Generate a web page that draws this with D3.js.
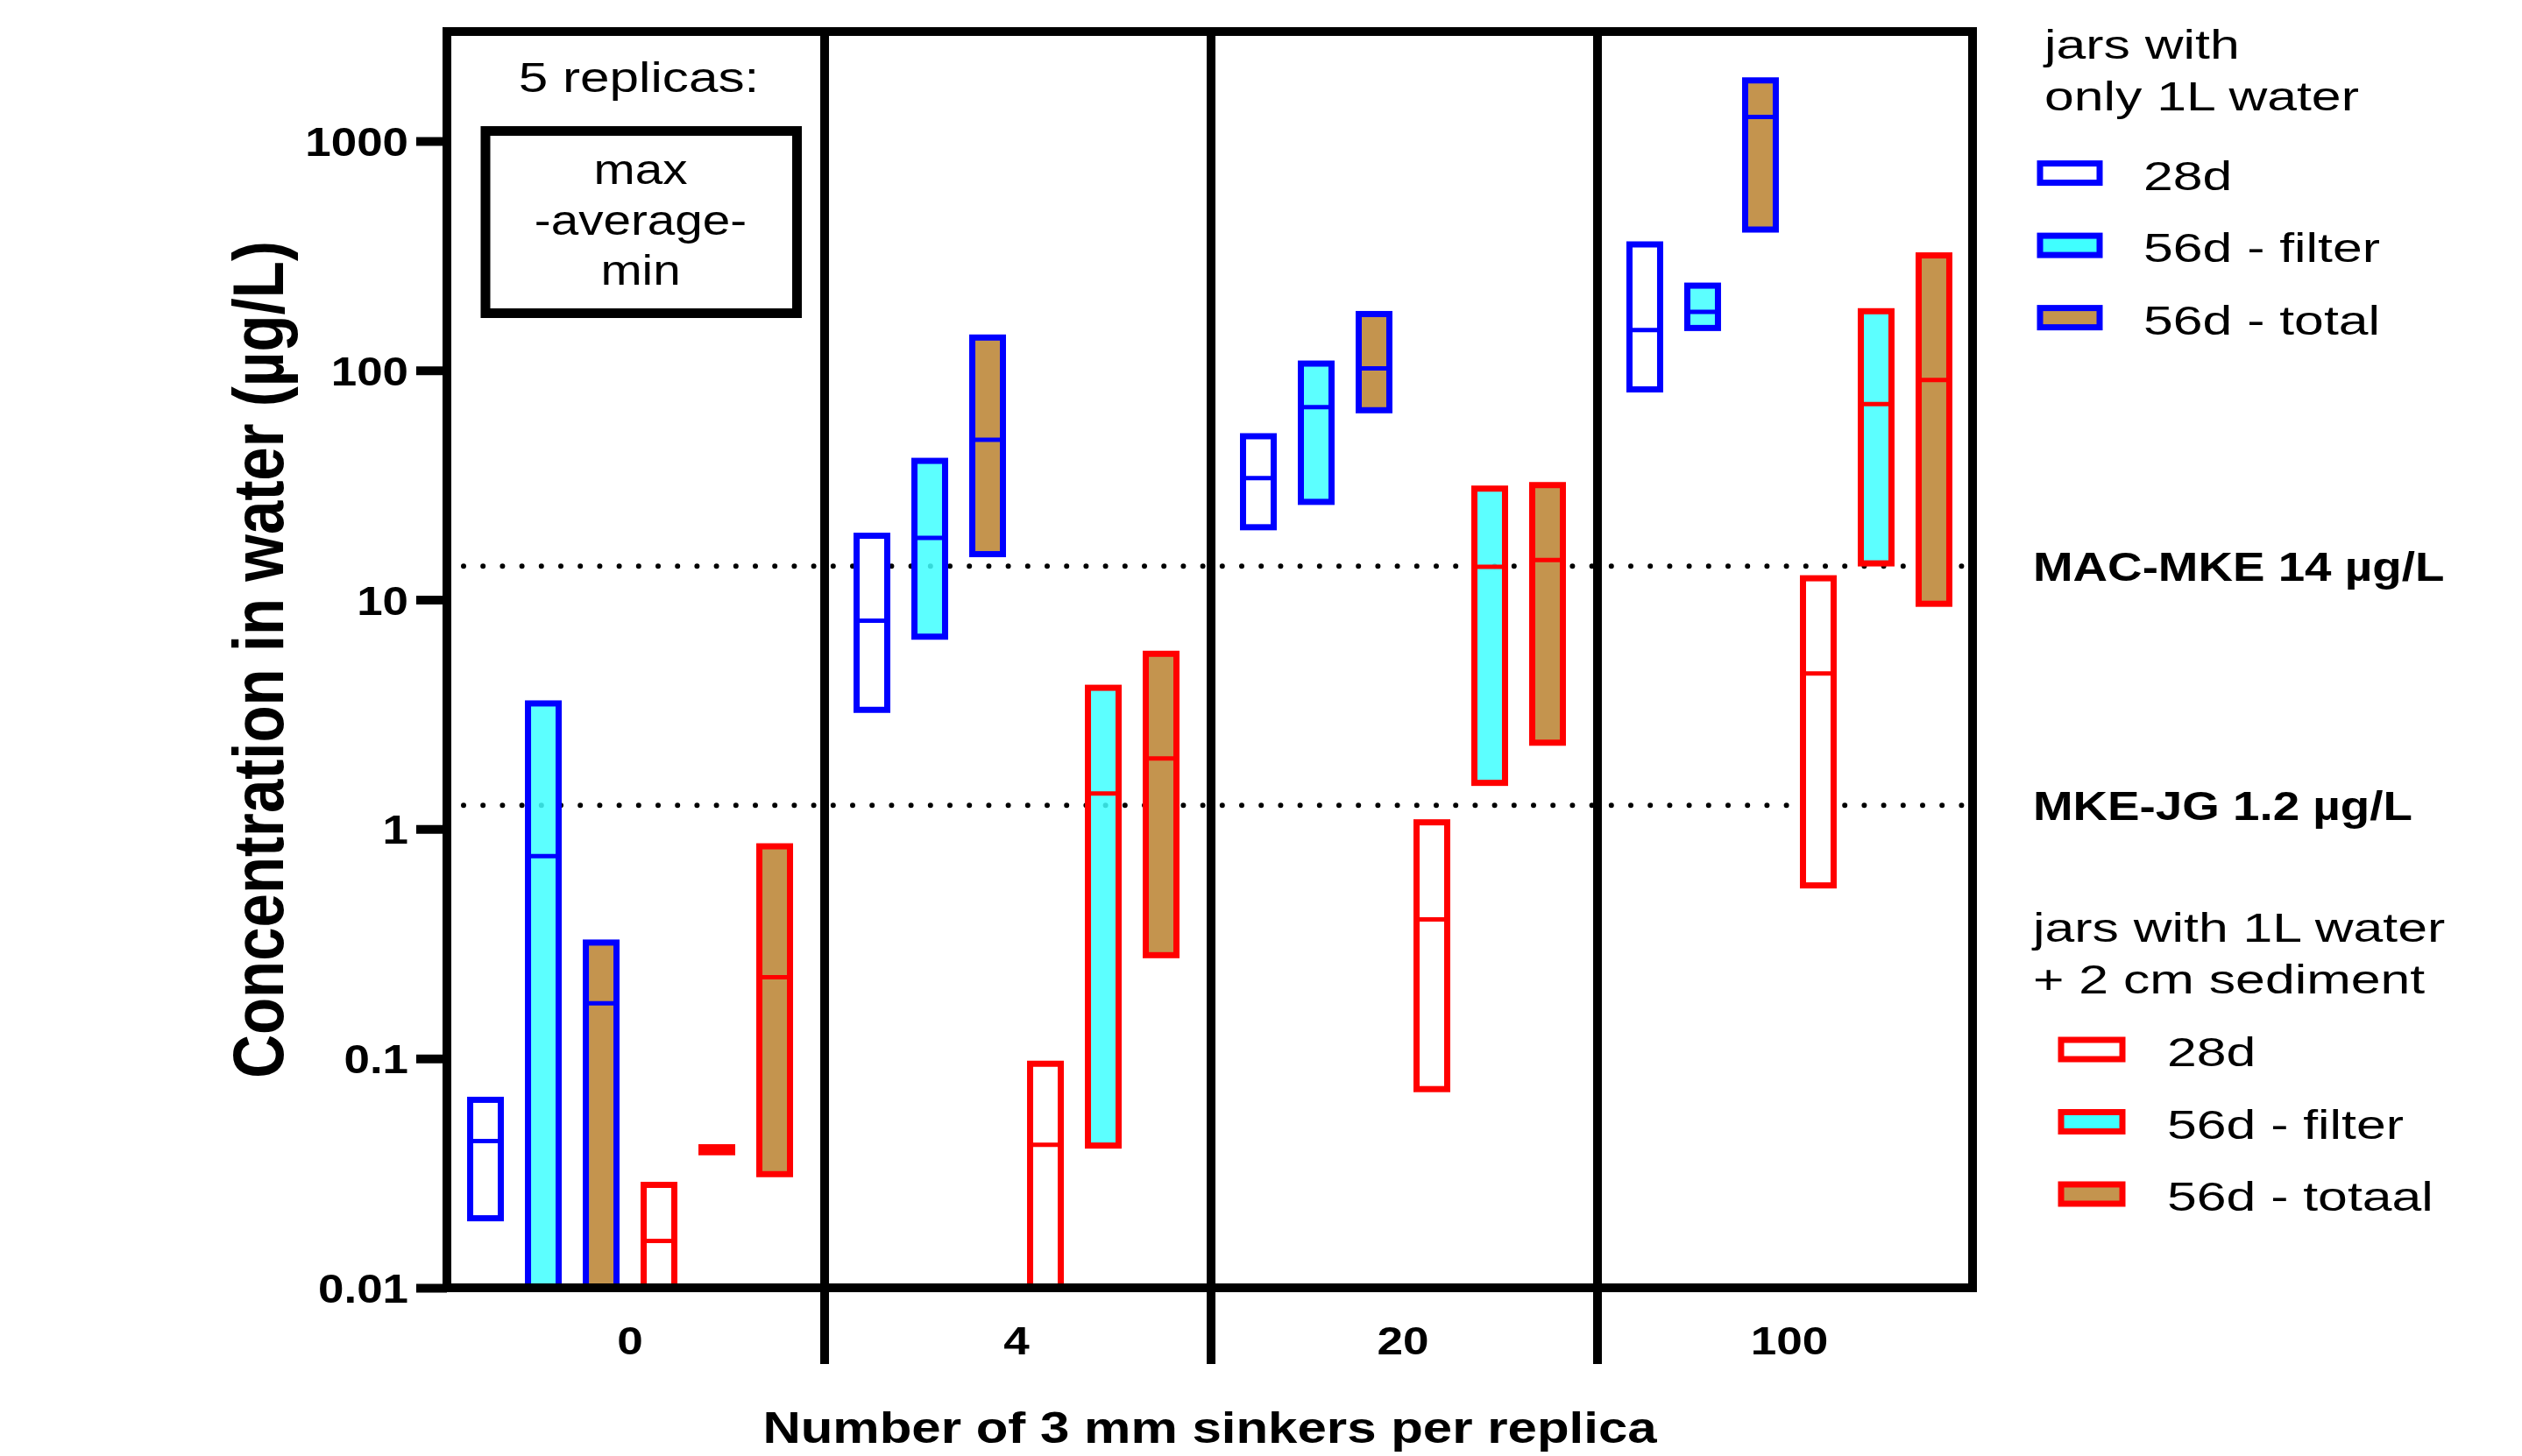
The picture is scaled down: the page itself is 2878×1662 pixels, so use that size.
<!DOCTYPE html>
<html>
<head>
<meta charset="utf-8">
<script src="https://cdn.jsdelivr.net/npm/d3@7"></script>
<style>
  html, body { margin: 0; padding: 0; background: #ffffff; }
  svg { display: block; }
  text { font-family: "Liberation Sans", Arial, Helvetica, sans-serif; fill: #000; }
</style>
</head>
<body>
<svg id="chart" width="2878" height="1662"></svg>
<script>
// ---------------- DATA ----------------
const categories = ["0", "4", "20", "100"];
const seriesKeys = ["water28d", "waterFilter", "waterTotal", "sed28d", "sedFilter", "sedTotal"];

// jars with only 1L water
const water28dMax  = [0.066, 19.0, 51.6, 354];
const water28dMean = [0.0436, 8.1, 33.9, 150];
const water28dMin  = [0.0201, 3.31, 20.7, 82.6];

const waterFilterMax  = [3.53, 40.3, 107, 234];
const waterFilterMean = [0.762, 18.6, 69.1, 180];
const waterFilterMin  = [0.01, 6.9, 26.7, 153];

const waterTotalMax  = [0.32, 139, 176, 1837];
const waterTotalMean = [0.174, 49.8, 102, 1272];
const waterTotalMin  = [0.01, 15.8, 67.0, 411];

// jars with 1L water + 2 cm sediment
const sed28dMax  = [0.0281, 0.0948, 1.07, 12.4];
const sed28dMean = [0.016, 0.042, 0.404, 4.77];
const sed28dMin  = [0.01, 0.01, 0.0735, 0.568];

const sedFilterMax  = [0.041, 4.13, 30.5, 181];
const sedFilterMean = [0.040, 1.43, 13.9, 71.2];
const sedFilterMin  = [0.039, 0.0417, 1.59, 14.4];

const sedTotalMax  = [0.841, 5.81, 31.6, 317];
const sedTotalMean = [0.226, 2.03, 14.9, 90.7];
const sedTotalMin  = [0.0313, 0.282, 2.38, 9.6];

const yTicks = [0.01, 0.1, 1, 10, 100, 1000];
const yTickLabels = ["0.01", "0.1", "1", "10", "100", "1000"];

const refValues = [14, 1.27];
const refLabels = ["MAC-MKE 14 µg/L", "MKE-JG 1.2 µg/L"];

const legendWaterTitle = ["jars with", "only 1L water"];
const legendWaterLabels = ["28d", "56d - filter", "56d - total"];
const legendSedTitle = ["jars with 1L water", "+ 2 cm sediment"];
const legendSedLabels = ["28d", "56d - filter", "56d - totaal"];

const noteTitle = "5 replicas:";
const noteLines = ["max", "-average-", "min"];

// ---------------- BUILD TABLE ----------------
const seriesData = {
  water28d:    { max: water28dMax,    mean: water28dMean,    min: water28dMin },
  waterFilter: { max: waterFilterMax, mean: waterFilterMean, min: waterFilterMin },
  waterTotal:  { max: waterTotalMax,  mean: waterTotalMean,  min: waterTotalMin },
  sed28d:      { max: sed28dMax,      mean: sed28dMean,      min: sed28dMin },
  sedFilter:   { max: sedFilterMax,   mean: sedFilterMean,   min: sedFilterMin },
  sedTotal:    { max: sedTotalMax,    mean: sedTotalMean,    min: sedTotalMin }
};
const rows = [];
categories.forEach((c, ci) => {
  seriesKeys.forEach(k => {
    rows.push({ cat: c, key: k, max: seriesData[k].max[ci], mean: seriesData[k].mean[ci], min: seriesData[k].min[ci] });
  });
});

// ---------------- STYLES ----------------
const BLUE = "#0000FF", RED = "#FF0000", CYAN = "#40FFFF", BROWN = "#C4944E";
const strokeColor = d3.scaleOrdinal().domain(seriesKeys).range([BLUE, BLUE, BLUE, RED, RED, RED]);
const fillColor = d3.scaleOrdinal().domain(seriesKeys).range(["#FFFFFF", CYAN, BROWN, "#FFFFFF", CYAN, BROWN]);
const fillOpacity = d3.scaleOrdinal().domain(seriesKeys).range([1, 0.85, 1, 1, 0.85, 1]);

// ---------------- LAYOUT ----------------
const frame = { left: 510, right: 2251, top: 36, bottom: 1470 };
const svg = d3.select("#chart");

const y = d3.scaleLog().domain([0.01, 3000]).range([frame.bottom, frame.top]);
const xGroup = d3.scalePoint().domain(categories).range([frame.left, frame.right]).padding(0.474);
const xInner = d3.scaleBand().domain(seriesKeys).range([-198, 198]).paddingInner(0.47).paddingOuter(0.235);

function addText(parent, str, x, yy, opts) {
  return parent.append("text")
    .attr("transform", `translate(${x},${yy}) scale(${opts.sx || 1},1)` + (opts.rotate ? ` rotate(${opts.rotate})` : ""))
    .attr("text-anchor", opts.anchor || "start")
    .style("font-size", opts.size + "px")
    .style("font-weight", opts.bold ? "bold" : "normal")
    .text(str);
}

// reference dotted lines (behind boxes)
const refG = svg.append("g");
refG.selectAll("line").data(refValues).join("line")
  .attr("x1", frame.left + 19).attr("x2", frame.right - 12)
  .attr("y1", d => y(d)).attr("y2", d => y(d))
  .attr("stroke", "#000").attr("stroke-width", 6)
  .attr("stroke-linecap", "round").attr("stroke-dasharray", "0 22.2");

refLabels.forEach((lab, i) => {
  addText(svg, lab, 2320, y(refValues[i]) + 17, { size: 46, bold: true, sx: 1.19 });
});

// boxes
const boxG = svg.append("g");
const boxes = boxG.selectAll("g.box").data(rows).join("g").attr("class", "box");
boxes.append("rect")
  .attr("x", d => xGroup(d.cat) + xInner(d.key))
  .attr("width", xInner.bandwidth())
  .attr("y", d => y(d.max))
  .attr("height", d => y(d.min) - y(d.max))
  .attr("fill", d => fillColor(d.key))
  .attr("fill-opacity", d => fillOpacity(d.key))
  .attr("stroke", d => strokeColor(d.key))
  .attr("stroke-width", 7);
boxes.append("line")
  .attr("x1", d => xGroup(d.cat) + xInner(d.key))
  .attr("x2", d => xGroup(d.cat) + xInner(d.key) + xInner.bandwidth())
  .attr("y1", d => y(d.mean)).attr("y2", d => y(d.mean))
  .attr("stroke", d => strokeColor(d.key))
  .attr("stroke-width", 5);

// frame
svg.append("rect")
  .attr("x", frame.left).attr("y", frame.top)
  .attr("width", frame.right - frame.left).attr("height", frame.bottom - frame.top)
  .attr("fill", "none").attr("stroke", "#000").attr("stroke-width", 10);

// dividers between groups
svg.append("g").selectAll("line").data(categories.slice(0, -1)).join("line")
  .attr("x1", d => xGroup(d) + 222).attr("x2", d => xGroup(d) + 222)
  .attr("y1", frame.top).attr("y2", 1557)
  .attr("stroke", "#000").attr("stroke-width", 10);

// y axis
const yAxis = d3.axisLeft(y).tickValues(yTicks)
  .tickFormat(d => yTickLabels[yTicks.indexOf(d)])
  .tickSize(35).tickPadding(9);
const yg = svg.append("g").attr("transform", `translate(${frame.left},0)`).call(yAxis);
yg.attr("font-size", null).attr("font-family", null);
yg.select(".domain").remove();
yg.selectAll(".tick line").attr("stroke", "#000").attr("stroke-width", 10);
yg.selectAll(".tick text")
  .attr("x", null).attr("dy", "0.36em")
  .attr("transform", "translate(-44,0) scale(1.15,1)")
  .attr("text-anchor", "end")
  .style("font-size", "46px").style("font-weight", "bold").attr("fill", "#000");

// category labels
categories.forEach(c => {
  addText(svg, c, xGroup(c), 1546, { size: 45, bold: true, sx: 1.18, anchor: "middle" });
});

// axis titles
addText(svg, "Number of 3 mm sinkers per replica", (frame.left + frame.right) / 2, 1647,
  { size: 50, bold: true, sx: 1.2, anchor: "middle" });
addText(svg, "Concentration in water (µg/L)", 323, (frame.top + frame.bottom) / 2,
  { size: 69, bold: true, sx: 1.17, anchor: "middle", rotate: -90 });

// note box in first panel
addText(svg, noteTitle, 729, 105, { size: 48, sx: 1.255, anchor: "middle" });
svg.append("rect").attr("x", 554).attr("y", 149.5).attr("width", 355.5).attr("height", 208)
  .attr("fill", "none").attr("stroke", "#000").attr("stroke-width", 11);
noteLines.forEach((t, i) => {
  addText(svg, t, 731, 210 + i * 57.5, { size: 48, sx: 1.18, anchor: "middle" });
});

// legends
function legend(titleLines, titleX, titleY0, labels, keys, swX, swW, sw0, textX) {
  titleLines.forEach((t, i) => addText(svg, t, titleX, titleY0 + i * 58.5, { size: 46, sx: 1.32 }));
  labels.forEach((lab, i) => {
    const cy = sw0 + i * 82.5;
    svg.append("rect").attr("x", swX).attr("y", cy - 11).attr("width", swW).attr("height", 22)
      .attr("fill", fillColor(keys[i])).attr("stroke", strokeColor(keys[i])).attr("stroke-width", 7);
    addText(svg, lab, textX, cy + 19, { size: 46, sx: 1.32 });
  });
}
legend(legendWaterTitle, 2333, 67, legendWaterLabels, seriesKeys.slice(0, 3), 2328, 68, 197.6, 2446);
legend(legendSedTitle, 2320, 1075, legendSedLabels, seriesKeys.slice(3), 2352, 70, 1198, 2473);
</script>
</body>
</html>
